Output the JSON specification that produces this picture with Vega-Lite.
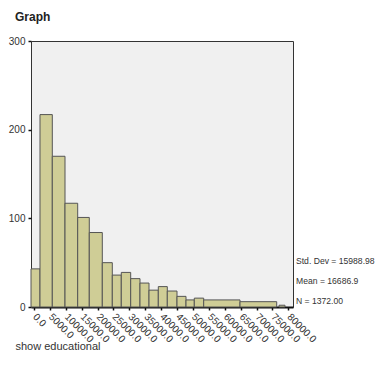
{
  "$schema": "https://vega.github.io/schema/vega-lite/v6.json",
  "autosize": "none",
  "width": 262,
  "height": 266,
  "padding": {"left": 31, "top": 41, "right": 82, "bottom": 70},
  "background": "white",
  "config": {
    "font": "Liberation Sans",
    "view": {"fill": "#f0f0f0", "stroke": "#333333", "strokeWidth": 1}
  },
  "title": {
    "text": "Graph",
    "anchor": "start",
    "frame": "group",
    "dx": -16,
    "offset": 12,
    "fontSize": 12,
    "fontWeight": "bold",
    "font": "Liberation Sans",
    "color": "#222222"
  },
  "layer": [
    {
      "data": {
        "values": [
          {"x0": -943, "x1": 1887, "count": 43},
          {"x0": 1887, "x1": 5755, "count": 217},
          {"x0": 5755, "x1": 9750, "count": 170},
          {"x0": 9750, "x1": 13743, "count": 117},
          {"x0": 13743, "x1": 17391, "count": 101},
          {"x0": 17391, "x1": 21480, "count": 84},
          {"x0": 21480, "x1": 24625, "count": 50},
          {"x0": 24625, "x1": 27455, "count": 36},
          {"x0": 27455, "x1": 30412, "count": 39},
          {"x0": 30412, "x1": 33337, "count": 32},
          {"x0": 33337, "x1": 36168, "count": 27},
          {"x0": 36168, "x1": 39093, "count": 19},
          {"x0": 39093, "x1": 41922, "count": 23},
          {"x0": 41922, "x1": 44974, "count": 18},
          {"x0": 44974, "x1": 47804, "count": 12},
          {"x0": 47804, "x1": 50414, "count": 8},
          {"x0": 50414, "x1": 53370, "count": 10},
          {"x0": 53370, "x1": 64787, "count": 8},
          {"x0": 64787, "x1": 76330, "count": 6},
          {"x0": 77053, "x1": 78940, "count": 2}
        ]
      },
      "mark": {"type": "bar", "fill": "#cfcd96", "stroke": "#555555", "strokeWidth": 1},
      "encoding": {
        "x": {
          "field": "x0",
          "type": "quantitative",
          "scale": {"domain": [-943, 81455], "nice": false, "zero": false},
          "axis": {
            "values": [0, 5000, 10000, 15000, 20000, 25000, 30000, 35000, 40000, 45000, 50000, 55000, 60000, 65000, 70000, 75000, 80000],
            "labelExpr": "format(datum.value, '.1f')",
            "labelAngle": 45,
            "labelAlign": "left",
            "labelBaseline": "middle",
            "labelFontSize": 10,
            "labelColor": "#333333",
            "labelPadding": 5,
            "labelOverlap": false,
            "labelBound": false,
            "labelFlush": false,
            "grid": false,
            "domainColor": "#111111",
            "domainWidth": 2,
            "tickColor": "#111111",
            "tickSize": 3,
            "tickWidth": 1.5,
            "title": "show educational",
            "titleAnchor": "start",
            "titleX": -16,
            "titleY": 39,
            "titleBaseline": "middle",
            "titleFontSize": 11,
            "titleFontWeight": "normal",
            "titleColor": "#333333"
          }
        },
        "x2": {"field": "x1"},
        "y": {
          "field": "count",
          "type": "quantitative",
          "scale": {"domain": [0, 300], "nice": false},
          "axis": {
            "values": [0, 100, 200, 300],
            "grid": false,
            "domain": false,
            "labelFontSize": 10,
            "labelColor": "#333333",
            "labelPadding": 3,
            "tickColor": "#111111",
            "tickSize": 3,
            "tickWidth": 1.5,
            "title": null
          }
        },
        "y2": {"datum": 0}
      }
    },
    {
      "data": {"values": [{"note": "stats"}]},
      "mark": {
        "type": "text",
        "text": ["Std. Dev = 15988.98", "Mean = 16686.9", "N = 1372.00"],
        "align": "left",
        "baseline": "top",
        "lineHeight": 20,
        "fontSize": 8.6,
        "color": "#333333",
        "font": "Liberation Sans"
      },
      "encoding": {
        "x": {
          "datum": 82400,
          "type": "quantitative",
          "axis": {
            "values": [0, 5000, 10000, 15000, 20000, 25000, 30000, 35000, 40000, 45000, 50000, 55000, 60000, 65000, 70000, 75000, 80000],
            "labelExpr": "format(datum.value, '.1f')",
            "labelAngle": 45,
            "labelAlign": "left",
            "labelBaseline": "middle",
            "labelFontSize": 10,
            "labelColor": "#333333",
            "labelPadding": 5,
            "labelOverlap": false,
            "labelBound": false,
            "labelFlush": false,
            "grid": false,
            "domainColor": "#111111",
            "domainWidth": 2,
            "tickColor": "#111111",
            "tickSize": 3,
            "tickWidth": 1.5,
            "title": "show educational",
            "titleAnchor": "start",
            "titleX": -16,
            "titleY": 39,
            "titleBaseline": "middle",
            "titleFontSize": 11,
            "titleFontWeight": "normal",
            "titleColor": "#333333"
          }
        },
        "y": {
          "datum": 56,
          "type": "quantitative",
          "axis": {
            "values": [0, 100, 200, 300],
            "grid": false,
            "domain": false,
            "labelFontSize": 10,
            "labelColor": "#333333",
            "labelPadding": 3,
            "tickColor": "#111111",
            "tickSize": 3,
            "tickWidth": 1.5,
            "title": null
          }
        }
      }
    }
  ]
}
